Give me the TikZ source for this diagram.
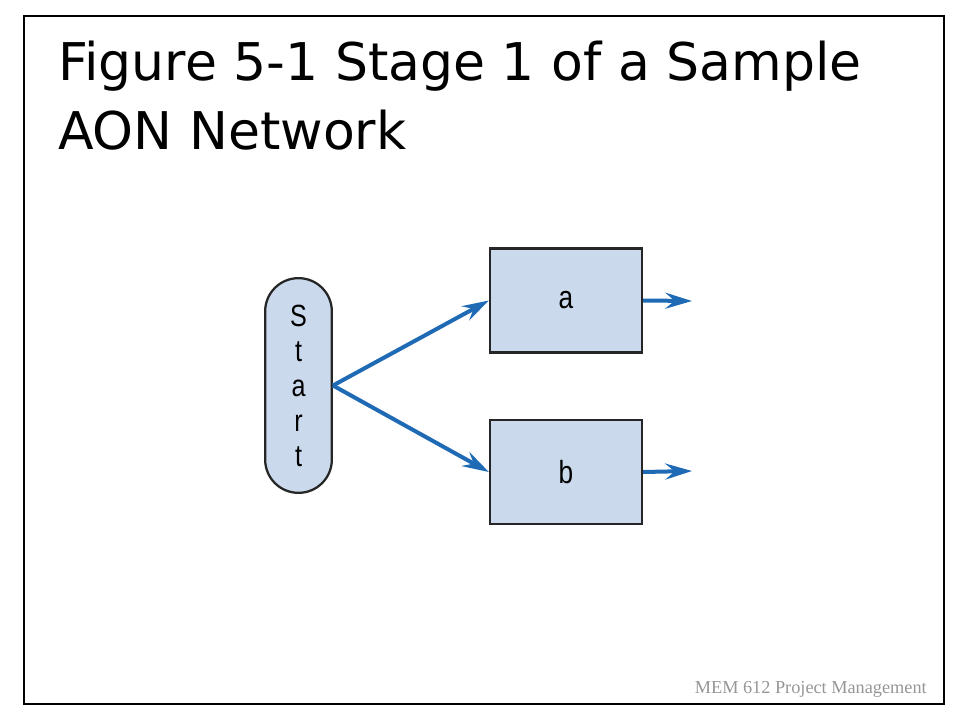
\documentclass[tikz,border=0pt]{standalone}
\usepackage{fontspec}
\usepackage{tikz}
\usetikzlibrary{arrows.meta,positioning}
\setmainfont{Liberation Sans}
\newfontfamily\titlefont{DejaVu Sans}
\newfontfamily\footfont{Liberation Serif}
\definecolor{aonfill}{RGB}{202,217,236}
\definecolor{aonblue}{RGB}{30,106,180}
\definecolor{footgray}{RGB}{150,150,150}
\newcommand{\narrow}[1]{\scalebox{0.82}[1]{#1}}

\tikzset{
  activity/.style={draw=black!85, line width=1.7pt, fill=aonfill,
    minimum width=114pt, minimum height=78pt, inner sep=0pt,
    font=\fontsize{24}{28}\selectfont},
  startnode/.style={draw=black!85, line width=1.7pt, fill=aonfill,
    minimum width=50pt, minimum height=161pt, inner sep=0pt,
    rounded corners=24.9pt, align=center,
    font=\fontsize{23}{26.25}\selectfont},
  flow/.style={-{Stealth[length=20pt,width=12pt,inset=7pt]}, draw=aonblue, line width=3pt}
}

\begin{document}
\begin{tikzpicture}[x=0.75pt,y=-0.75pt]

        \useasboundingbox (0,0) rectangle (960,720);
        \draw[line width=0.9pt] (24,16) rectangle (944,704);

        \node[anchor=base west, inner sep=0pt, font=\titlefont\fontsize{39}{47}\selectfont] (title1) at (58,81) {Figure 5-1 Stage 1 of a Sample};
        \node[anchor=base west, inner sep=0pt, font=\titlefont\fontsize{39}{47}\selectfont] (title2) at (58,150) {AON Network};

        \node[startnode] (start) at (298.5,385.5) {\narrow{S}\\\narrow{t}\\\narrow{a}\\\narrow{r}\\\narrow{t}};
        \node[activity] (a) at (566,300.5) {\narrow{a}};
        \node[activity] (b) at (566,472) {\narrow{b}};

        \coordinate (a_out) at (692,301);
        \coordinate (b_out) at (692,471);

        \draw[flow] (start.east) -- (a.west);
        \draw[flow] (start.east) -- (b.west);
        \draw[flow] (a.east) -- (a_out);
        \draw[flow] (b.east) -- (b_out);

        \node[anchor=base east, inner sep=0pt, text=footgray, font=\footfont\fontsize{13.7}{16}\selectfont] (footer) at (927,693) {MEM 612 Project Management};

    \end{tikzpicture}
\end{document}
